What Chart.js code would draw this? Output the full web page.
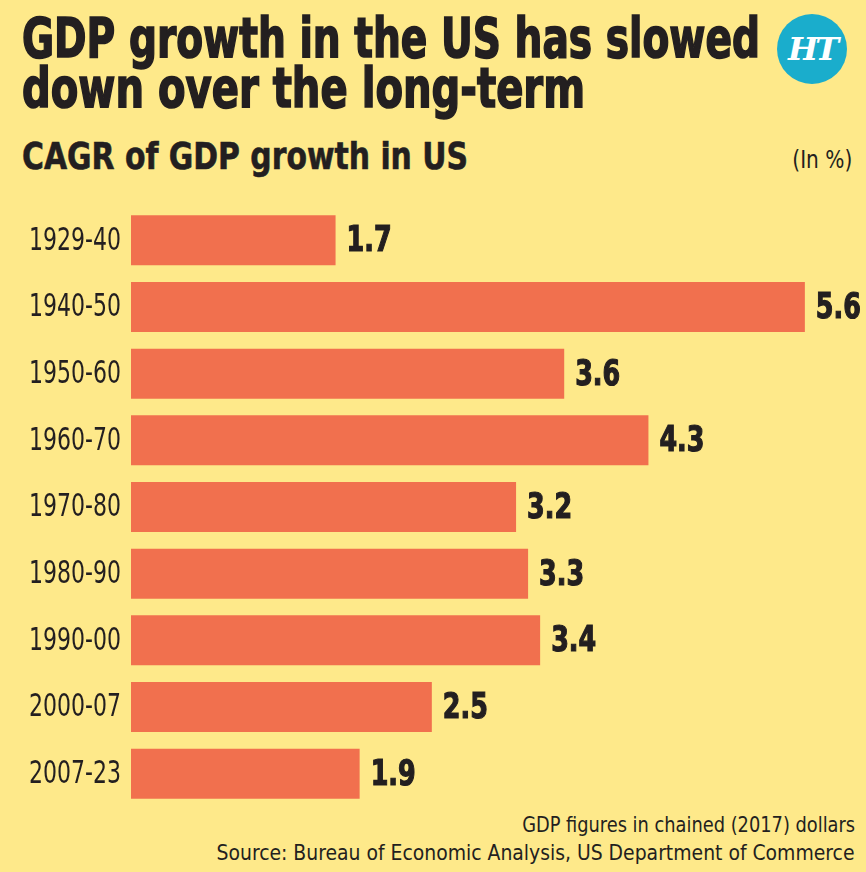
<!DOCTYPE html>
<html>
<head>
  <meta charset="utf-8" />
  <title>GDP growth in the US</title>
  <script src="https://cdn.jsdelivr.net/npm/chart.js"></script>
  <style>
    body { margin: 0; background: #fee98a; }
    #page { position: relative; width: 866px; height: 872px; background: #fee98a; overflow: hidden;
            font-family: "Liberation Sans Narrow", "DejaVu Sans Condensed", sans-serif; color: #231f20; }
    .txt { position: absolute; white-space: nowrap; transform-origin: left top; }
    .right { transform-origin: right top; }
    #title1, #title2 { font-weight: bold; font-size: 55px; line-height: 55px; left: 22px; -webkit-text-stroke: 1.6px #231f20; }
    #title1 { top: 11px; }
    #title2 { top: 61px; }
    #subtitle { font-weight: bold; font-size: 38px; line-height: 38px; left: 22px; top: 137px; -webkit-text-stroke: 0.6px #231f20; }
    #unit { font-size: 24px; line-height: 24px; right: 14px; top: 148px; }
    #note1, #note2 { font-size: 22px; line-height: 22px; right: 11px; }
    #note1 { top: 814px; }
    #note2 { top: 842px; }
    #logo { position: absolute; left: 777px; top: 14px; width: 70px; height: 70px; border-radius: 50%;
            background: #1aadcc; color: #fff; text-align: center; line-height: 70px;
            font-family: "DejaVu Serif", serif; font-weight: bold; font-style: italic; font-size: 32px; letter-spacing: -3px; }
    #chart { position: absolute; left: 0; top: 200px; }
  </style>
</head>
<body>
<div id="page">
  <div id="title1" class="txt" data-w="738">GDP growth in the US has slowed</div>
  <div id="title2" class="txt" data-w="563">down over the long-term</div>
  <div id="subtitle" class="txt" data-w="446">CAGR of GDP growth in US</div>
  <div id="unit" class="txt right" data-w="60">(In %)</div>
  <div id="logo">HT</div>
  <canvas id="chart" width="866" height="612"></canvas>
  <div id="note1" class="txt right" data-w="333">GDP figures in chained (2017) dollars</div>
  <div id="note2" class="txt right" data-w="638">Source: Bureau of Economic Analysis, US Department of Commerce</div>
</div>

<script>
  // periods and compound annual growth rate (%)
  const periods = ['1929-40', '1940-50', '1950-60', '1960-70', '1970-80', '1980-90', '1990-00', '2000-07', '2007-23'];
  const cagr = [1.7, 5.6, 3.6, 4.3, 3.2, 3.3, 3.4, 2.5, 1.9];

  const fontStack = '"Liberation Sans Narrow", "DejaVu Sans Condensed", sans-serif';

  // stretch/squeeze headline text to the widths seen in the original
  document.querySelectorAll('.txt').forEach(el => {
    const w = el.getBoundingClientRect().width;
    const target = Number(el.dataset.w);
    el.style.transform = 'scaleX(' + (target / w) + ')';
  });

  // draw text squeezed horizontally to a reference width
  function squeezedText(ctx, text, x, y, sx, stroke) {
    ctx.save();
    ctx.translate(x, y);
    ctx.scale(sx, 1);
    ctx.fillText(text, 0, 0);
    if (stroke) ctx.strokeText(text, 0, 0);
    ctx.restore();
  }

  // category labels + value labels, placed with the chart's own scales
  const labelsPlugin = {
    id: 'labelsPlugin',
    afterDatasetsDraw(chart) {
      const ctx = chart.ctx;
      const yScale = chart.scales.y;
      const meta = chart.getDatasetMeta(0);
      ctx.save();
      ctx.fillStyle = '#231f20';
      ctx.strokeStyle = '#231f20';
      ctx.lineWidth = 1.2;
      ctx.textBaseline = 'middle';

      ctx.font = '32px ' + fontStack;
      ctx.textAlign = 'right';
      const catSx = 92 / ctx.measureText('1929-40').width;
      periods.forEach((p, i) => {
        squeezedText(ctx, p, yScale.right - 10, yScale.getPixelForTick(i) + 1, catSx, false);
      });

      ctx.font = 'bold 35px ' + fontStack;
      ctx.textAlign = 'left';
      const valSx = 45 / ctx.measureText('5.6').width;
      meta.data.forEach((bar, i) => {
        squeezedText(ctx, cagr[i].toFixed(1), bar.x + 11, bar.y + 2, valSx, true);
      });
      ctx.restore();
    }
  };

  const ctx = document.getElementById('chart').getContext('2d');
  new Chart(ctx, {
    type: 'bar',
    data: {
      labels: periods,
      datasets: [{
        data: cagr,
        backgroundColor: '#f1704e',
        borderWidth: 0,
        barPercentage: 0.75,
        categoryPercentage: 1
      }]
    },
    options: {
      indexAxis: 'y',
      responsive: false,
      animation: false,
      layout: { padding: { top: 7, bottom: 5, left: 0, right: 13 } },
      plugins: { legend: { display: false }, tooltip: { enabled: false } },
      scales: {
        x: {
          display: false,
          min: 0,
          max: 6
        },
        y: {
          grid: { display: false, drawTicks: false },
          border: { display: false },
          ticks: { display: false },
          afterFit(scale) { scale.width = 131; }
        }
      }
    },
    plugins: [labelsPlugin]
  });
</script>
</body>
</html>
